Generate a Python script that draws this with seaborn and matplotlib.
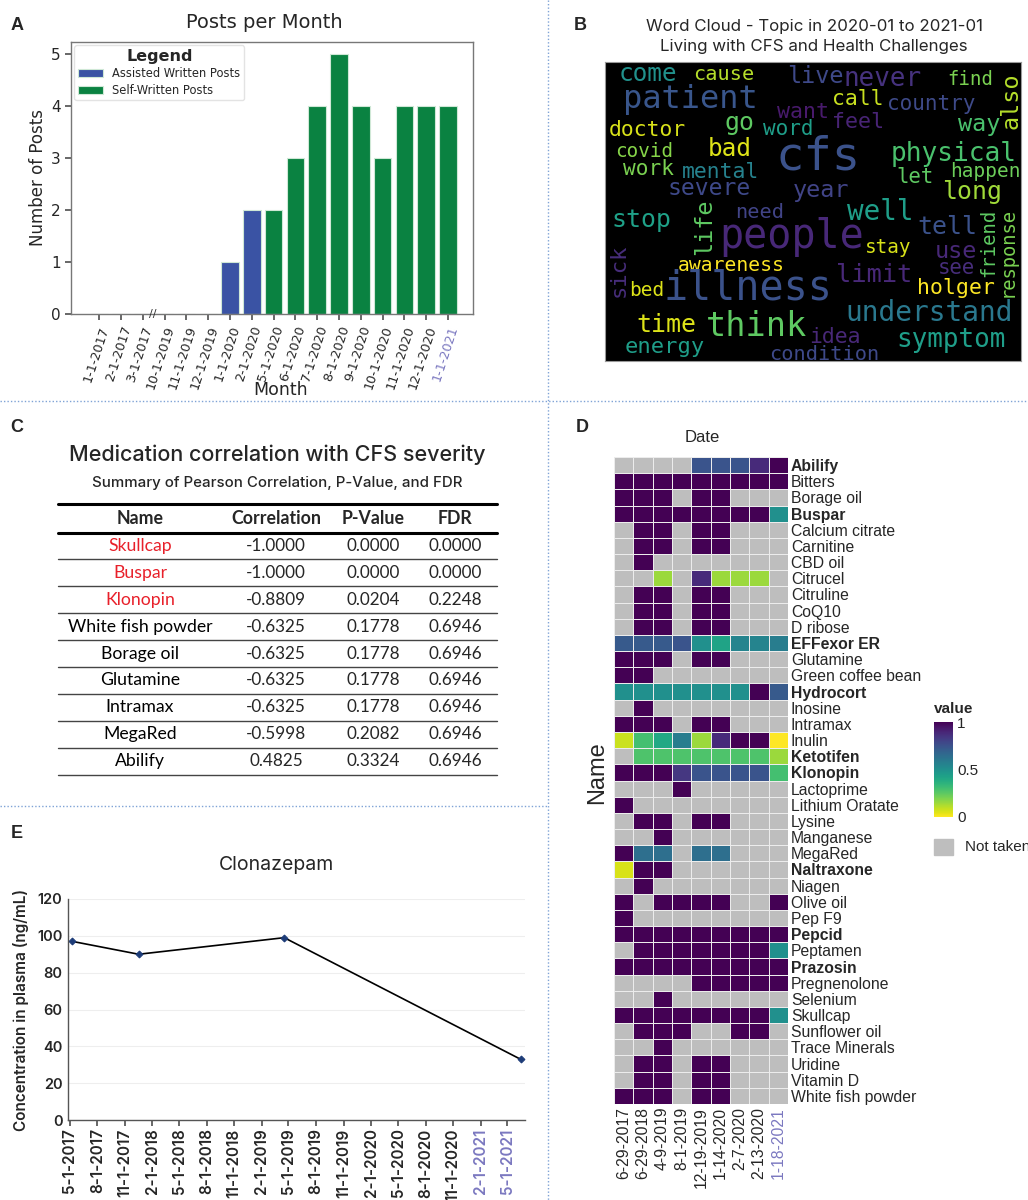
import numpy as np
import pandas as pd
import matplotlib.pyplot as plt
from matplotlib.colors import ListedColormap
from matplotlib.patches import Rectangle
import seaborn as sns

# ---- panel A data ----
months = ['1-1-2017', '2-1-2017', '3-1-2017', '10-1-2019', '11-1-2019', '12-1-2019', '1-1-2020',
          '2-1-2020', '5-1-2020', '6-1-2020', '7-1-2020', '8-1-2020', '9-1-2020', '10-1-2020',
          '11-1-2020', '12-1-2020', '1-1-2021']
posts = [0, 0, 0, 0, 0, 0, 1, 2, 2, 3, 4, 5, 4, 3, 4, 4, 4]
post_kind = ['Self-Written Posts'] * 6 + ['Assisted Written Posts'] * 2 + ['Self-Written Posts'] * 9

# ---- panel B data ----
words = ['come', 'cause', 'live', 'never', 'find', 'also', 'patient', 'call', 'country', 'want',
         'feel', 'go', 'word', 'doctor', 'way', 'cfs', 'covid', 'bad', 'physical', 'work',
         'mental', 'let', 'happen', 'severe', 'year', 'long', 'stop', 'life', 'need', 'well',
         'people', 'tell', 'friend', 'response', 'stay', 'use', 'sick', 'awareness', 'see', 'limit',
         'bed', 'illness', 'holger', 'understand', 'time', 'think', 'idea', 'symptom', 'energy', 'condition']
word_size = [17.6, 14.6, 16.9, 18.7, 13.7, 16.9, 23.0, 15.4, 15.1, 15.6,
             15.6, 17.9, 15.1, 15.4, 16.9, 33.9, 13.9, 17.6, 18.9, 15.2,
             15.4, 14.9, 14.0, 16.6, 16.9, 17.9, 17.9, 16.9, 14.6, 19.9,
             28.9, 17.9, 13.6, 13.5, 13.9, 16.9, 15.9, 14.2, 14.9, 18.3,
             14.0, 28.8, 15.5, 20.1, 17.9, 24.2, 15.4, 18.7, 15.9, 14.6]
word_color = ['#21918c', '#b5de2b', '#3e4989', '#46327e', '#7ad151', '#b5de2b', '#39568c', '#c8e020',
              '#3e4a89', '#481a6c', '#482475', '#5ec962', '#1f9e89', '#d8e219', '#4ac16d', '#3b528b',
              '#86d549', '#dde318', '#4ac16d', '#7ad151', '#26828e', '#5ec962', '#6ccd5a', '#3e4989',
              '#414487', '#a0da39', '#1fa188', '#5ec962', '#414487', '#1f9e89', '#482878', '#3b528b',
              '#5ec962', '#7ad151', '#d8e219', '#482878', '#472d7b', '#fde725', '#472d7b', '#482878',
              '#dde318', '#3b528b', '#fde725', '#2a788e', '#dde318', '#5ec962', '#482878', '#1f9e89',
              '#1f9e89', '#3e4989']
# layout of the cloud (centre x, centre y, rotation) in image pixels
word_layout = [(296, 220, 0), (523, 222, 0), (800, 230, 0), (1002, 237, 0), (1266, 238, 0),
               (1388, 300, 90), (422, 297, 0), (927, 297, 0), (1147, 310, 0), (761, 335, 0),
               (926, 365, 0), (570, 368, 0), (719, 385, 0), (294, 388, 0), (1291, 372, 0),
               (807, 470, 0), (285, 455, 0), (541, 447, 0), (1215, 460, 0), (298, 505, 0),
               (514, 515, 0), (1099, 530, 0), (1310, 515, 0), (480, 565, 0), (815, 570, 0),
               (1270, 575, 0), (275, 660, 0), (466, 680, 90), (631, 638, 0), (995, 635, 0),
               (727, 710, 0), (1195, 680, 0), (1322, 728, 90), (1375, 755, 90), (1018, 742, 0),
               (1221, 755, 0), (208, 810, 90), (545, 795, 0), (1224, 805, 0), (975, 825, 0),
               (292, 870, 0), (597, 865, 0), (1221, 865, 0), (1142, 940, 0), (350, 975, 0),
               (623, 980, 0), (857, 1010, 0), (1207, 1020, 0), (345, 1040, 0), (825, 1062, 0)]

# ---- panel C data ----
med_names = ['Skullcap', 'Buspar', 'Klonopin', 'White fish powder', 'Borage oil', 'Glutamine',
             'Intramax', 'MegaRed', 'Abilify']
med_corr = [-1.0, -1.0, -0.8809, -0.6325, -0.6325, -0.6325, -0.6325, -0.5998, 0.4825]
med_pval = [0.0, 0.0, 0.0204, 0.1778, 0.1778, 0.1778, 0.1778, 0.2082, 0.3324]
med_fdr = [0.0, 0.0, 0.2248, 0.6946, 0.6946, 0.6946, 0.6946, 0.6946, 0.6946]
significant = ['Skullcap', 'Buspar', 'Klonopin']

# ---- panel D data ----
visit_dates = ['6-29-2017', '6-29-2018', '4-9-2019', '8-1-2019', '12-19-2019', '1-14-2020',
               '2-7-2020', '2-13-2020', '1-18-2021']
N = np.nan
drug_names = ['Abilify', 'Bitters', 'Borage oil', 'Buspar', 'Calcium citrate', 'Carnitine', 'CBD oil',
              'Citrucel', 'Citruline', 'CoQ10', 'D ribose', 'EFFexor ER', 'Glutamine',
              'Green coffee bean', 'Hydrocort', 'Inosine', 'Intramax', 'Inulin', 'Ketotifen',
              'Klonopin', 'Lactoprime', 'Lithium Oratate', 'Lysine', 'Manganese', 'MegaRed',
              'Naltraxone', 'Niagen', 'Olive oil', 'Pep F9', 'Pepcid', 'Peptamen', 'Prazosin',
              'Pregnenolone', 'Selenium', 'Skullcap', 'Sunflower oil', 'Trace Minerals', 'Uridine',
              'Vitamin D', 'White fish powder']
dose = [
    [N, N, N, N, .74, .74, .74, .88, 1],
    [1, 1, 1, 1, 1, 1, 1, 1, 1],
    [1, 1, 1, N, 1, 1, N, N, N],
    [1, 1, 1, 1, 1, 1, 1, 1, .5],
    [N, 1, 1, N, 1, 1, N, N, N],
    [N, 1, 1, N, 1, 1, N, N, N],
    [N, 1, N, N, N, N, N, N, N],
    [N, N, .15, N, .88, .15, .15, .15, N],
    [N, 1, 1, N, 1, 1, N, N, N],
    [N, 1, 1, N, 1, 1, N, N, N],
    [N, 1, 1, N, 1, 1, N, N, N],
    [.72, .72, .72, .74, .5, .42, .55, .55, .58],
    [1, 1, 1, N, 1, 1, N, N, N],
    [1, 1, N, N, N, N, N, N, N],
    [.5, .5, .5, .5, .5, .5, .5, 1, .72],
    [N, 1, N, N, N, N, N, N, N],
    [1, 1, 1, N, 1, 1, N, N, N],
    [.08, .3, .4, .58, .15, .88, 1, 1, 0],
    [N, .28, .28, .28, .28, .28, .28, .28, .15],
    [1, 1, 1, .84, .74, .74, .74, .74, .3],
    [N, N, N, 1, N, N, N, N, N],
    [1, N, N, N, N, N, N, N, N],
    [N, 1, 1, N, 1, 1, N, N, N],
    [N, N, 1, N, N, N, N, N, N],
    [1, .64, .64, N, .64, .64, N, N, N],
    [.06, 1, 1, N, N, N, N, N, N],
    [N, 1, N, N, N, N, N, N, N],
    [1, N, 1, 1, 1, 1, N, N, 1],
    [1, N, N, N, N, N, N, N, N],
    [1, 1, 1, 1, 1, 1, 1, 1, 1],
    [N, 1, 1, 1, 1, 1, 1, 1, .5],
    [1, 1, 1, 1, 1, 1, 1, 1, 1],
    [N, N, N, N, 1, 1, 1, 1, 1],
    [N, N, 1, N, N, N, N, N, N],
    [1, 1, 1, 1, 1, 1, 1, 1, .5],
    [N, 1, 1, 1, N, N, 1, 1, N],
    [N, N, 1, N, N, N, N, N, N],
    [N, 1, 1, N, 1, 1, N, N, N],
    [N, 1, 1, N, 1, 1, N, N, N],
    [1, 1, 1, N, 1, 1, N, N, N],
]
bold_drugs = ['Abilify', 'Buspar', 'EFFexor ER', 'Hydrocort', 'Ketotifen', 'Klonopin', 'Naltraxone',
              'Pepcid', 'Prazosin']

# ---- panel E data ----
clz_dates = ['2017-05-09', '2017-12-17', '2019-04-17', '2021-06-14']
clz_conc = [97, 90, 99, 33]

W, H = 1028, 1200
sns.set_theme(style='white')
plt.rcParams['font.family'] = ['DejaVu Sans']
fig = plt.figure(figsize=(W / 100, H / 100), dpi=100)


def box(l, t, r, b):
    return [l / W, 1 - b / H, (r - l) / W, (b - t) / H]


purple = '#7b78c0'

# ================= A: posts per month =================
axa = fig.add_axes(box(71, 42, 473, 314))
dfa = pd.DataFrame({'Month': months, 'Posts': posts, 'Kind': post_kind})
sns.barplot(data=dfa, x='Month', y='Posts', hue='Kind',
            hue_order=['Assisted Written Posts', 'Self-Written Posts'],
            palette={'Assisted Written Posts': '#3a53a4', 'Self-Written Posts': '#0a8241'},
            saturation=1, dodge=False, width=0.8, edgecolor='#cfe8d6', linewidth=0.8, ax=axa)
axa.set_xlim(-1.3, 17.15)
axa.set_ylim(0, 5.24)
axa.set_yticks(range(6))
axa.tick_params(axis='both', labelsize=11, length=4, color='#555555', bottom=True, left=True)
for lab in axa.get_xticklabels():
    lab.set_rotation(72)
    lab.set_ha('right')
    lab.set_rotation_mode('anchor')
    lab.set_fontsize(9.2)
axa.get_xticklabels()[-1].set_color(purple)
for s in axa.spines.values():
    s.set_color('#777777')
    s.set_linewidth(1)
axa.set_ylabel('Number of Posts', fontsize=12, labelpad=3)
axa.set_xlabel('Month', fontsize=12.5)
axa.xaxis.set_label_coords(0.522, -0.279)
axa.xaxis.label.set_va('center')
axa.text(2.45, 0, '//', fontsize=8, ha='center', va='center', clip_on=False, color='#333333')
leg = axa.legend(title='Legend', loc='upper left', fontsize=8.3, frameon=True, borderpad=0.3,
                 handlelength=2.2, labelspacing=0.3, borderaxespad=0.3)
leg.get_title().set_fontsize(11.5)
leg.get_title().set_fontweight('bold')
leg.get_frame().set_edgecolor('#dddddd')

# ================= B: word cloud =================
axb = fig.add_axes(box(605, 62, 1021, 361))
axb.set_facecolor('black')
axb.set_xlim(166, 1418)
axb.set_ylim(1083, 185)
axb.set_xticks([])
axb.set_yticks([])
for s in axb.spines.values():
    s.set_color('#999999')
    s.set_linewidth(0.8)
for w, fs, c, (x, y, r) in zip(words, word_size, word_color, word_layout):
    axb.text(x, y, w, fontsize=fs, color=c, rotation=r, ha='center', va='center',
             family='DejaVu Sans Mono', clip_on=True)

# ================= D: medication heatmap =================
axd = fig.add_axes(box(614, 457, 788, 1104))
cax = fig.add_axes(box(934, 722, 953, 817))
dfd = pd.DataFrame(dose, index=drug_names, columns=visit_dates)
sns.heatmap(dfd.isna().astype(float), cmap=ListedColormap(['#bebebe']), cbar=False,
            linewidths=0.6, linecolor='#ececec', ax=axd)
sns.heatmap(dfd, cmap='viridis_r', vmin=0, vmax=1, mask=dfd.isna(), linewidths=0.6,
            linecolor='#ececec', ax=axd, cbar_ax=cax)
axd.yaxis.tick_right()
axd.set_yticks(np.arange(len(drug_names)) + 0.5)
axd.set_yticklabels(drug_names, rotation=0, fontsize=11.3, family='Liberation Sans')
for lab in axd.get_yticklabels():
    if lab.get_text() in bold_drugs:
        lab.set_fontweight('bold')
axd.set_xticks(np.arange(len(visit_dates)) + 0.5)
axd.set_xticklabels(visit_dates, rotation=90, fontsize=11.3, family='Liberation Sans')
axd.get_xticklabels()[-1].set_color(purple)
axd.tick_params(length=0, pad=2)
axd.set_xlabel('')
axd.set_ylabel('')
cbar = axd.collections[-1].colorbar
cbar.outline.set_visible(False)
cbar.set_ticks([0, 0.5, 1])
cbar.set_ticklabels(['0', '0.5', '1'])
cax.tick_params(direction='in', color='white', length=4, width=0.8, left=True, right=True,
                labelsize=11, pad=3)
for lab in cax.get_yticklabels():
    lab.set_family('Liberation Sans')

# ================= E: clonazepam =================
axe = fig.add_axes(box(68, 899, 525, 1120))
dfe = pd.DataFrame({'date': pd.to_datetime(clz_dates), 'conc': clz_conc})
sns.lineplot(data=dfe, x='date', y='conc', color='black', linewidth=1.2, marker='D',
             markersize=3.5, markerfacecolor='#1d3c78', markeredgecolor='#1d3c78', ax=axe)
qticks = pd.date_range('2017-05-01', '2021-05-01', freq='3MS')
axe.set_xticks(qticks)
axe.set_xticklabels([f'{d.month}-{d.day}-{d.year}' for d in qticks], rotation=90,
                    fontsize=11, family='Inter', fontweight='semibold')
for lab in axe.get_xticklabels()[-2:]:
    lab.set_color(purple)
axe.set_xlim(pd.Timestamp('2017-04-25'), pd.Timestamp('2021-06-29'))
axe.set_ylim(0, 120)
axe.set_yticks(range(0, 121, 20))
for lab in axe.get_yticklabels():
    lab.set_family('Inter')
    lab.set_fontweight('semibold')
axe.tick_params(axis='y', labelsize=10.5, length=0, pad=4)
axe.tick_params(axis='x', length=4, color='#555555', bottom=True, pad=2)
axe.grid(axis='y', color='#eeeeee', linewidth=0.8)
axe.set_axisbelow(True)
sns.despine(ax=axe)
for s in ('left', 'bottom'):
    axe.spines[s].set_color('#555555')
    axe.spines[s].set_linewidth(1)
axe.set_xlabel('')
axe.set_ylabel('Concentration in plasma (ng/mL)', fontsize=11, family='Inter',
               fontweight='semibold', labelpad=6)

# ================= overlay: titles, table C, separators =================
ov = fig.add_axes([0, 0, 1, 1], zorder=10)
ov.set_xlim(0, W)
ov.set_ylim(H, 0)
ov.axis('off')
ov.patch.set_alpha(0)

sep = dict(color='#7fa3d6', linewidth=1, linestyle=(0, (1, 1.5)))
ov.plot([548, 548], [0, H], **sep)
ov.plot([0, W], [401, 401], **sep)
ov.plot([0, 548], [806, 806], **sep)

for letter, x, y in [('A', 17, 25), ('B', 580, 26), ('C', 17, 428), ('D', 582, 428), ('E', 17, 833)]:
    ov.text(x, y, letter, fontsize=13, fontweight='bold', family='Liberation Sans',
            ha='center', va='center')

ov.text(264, 22, 'Posts per Month', fontsize=14, ha='center', va='center')
ov.text(814, 26, 'Word Cloud - Topic in 2020-01 to 2021-01', fontsize=12.2, family='Inter',
        ha='center', va='center')
ov.text(814, 46, 'Living with CFS and Health Challenges', fontsize=12.2, family='Inter',
        ha='center', va='center')
ov.text(702, 438, 'Date', fontsize=12, family='Liberation Sans', ha='center', va='center')
ov.text(597, 773, 'Name', fontsize=17, family='Liberation Sans', rotation=90,
        ha='center', va='center')
ov.text(934, 709, 'value', fontsize=11, fontweight='bold', family='Liberation Sans',
        ha='left', va='center')
ov.add_patch(Rectangle((934, 839), 19, 16, color='#bebebe'))
ov.text(965, 847, 'Not taken', fontsize=11, family='Liberation Sans', ha='left', va='center')
ov.text(277, 865, 'Clonazepam', fontsize=14, family='Inter', ha='center', va='center')

# table C
ov.text(277, 455, 'Medication correlation with CFS severity', fontsize=15.5, family='Inter',
        fontweight='medium', ha='center', va='center')
ov.text(277, 483, 'Summary of Pearson Correlation, P-Value, and FDR', fontsize=10.8,
        family='Inter', fontweight='medium', ha='center', va='center')
col_x = [140, 276, 373, 455]
t_left, t_right = 58, 497
row_h = 26.9
header_y = 519
ov.plot([t_left, t_right], [503.5, 503.5], color='black', linewidth=2.2)
ov.plot([t_left, t_right], [532.5, 532.5], color='black', linewidth=2.2)
for x, h in zip(col_x, ['Name', 'Correlation', 'P-Value', 'FDR']):
    ov.text(x, header_y, h, fontsize=12.8, fontweight='bold', family='Lato', ha='center', va='center')
for i, (nm, c, p, f) in enumerate(zip(med_names, med_corr, med_pval, med_fdr)):
    yc = 532.5 + row_h * (i + 0.5)
    ov.text(col_x[0], yc, nm, fontsize=12.7, family='Lato', ha='center', va='center',
            color='#e8202a' if nm in significant else 'black')
    for x, v in zip(col_x[1:], [c, p, f]):
        ov.text(x, yc, f'{v:.4f}', fontsize=12.3, family='Lato', ha='center', va='center')
    ov.plot([t_left, t_right], [532.5 + row_h * (i + 1)] * 2, color='#444444', linewidth=1)

fig.savefig('out.png', dpi=100)
